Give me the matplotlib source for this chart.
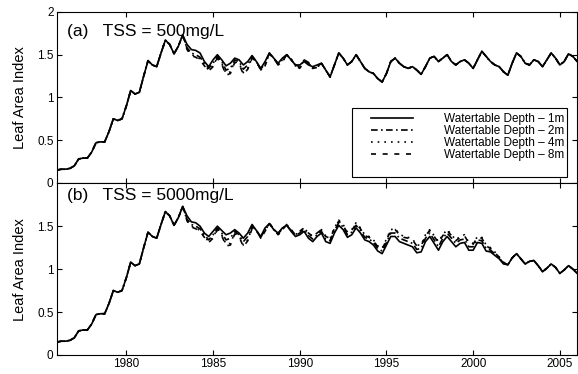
import numpy as np
import matplotlib
matplotlib.use('Agg')
import matplotlib.pyplot as plt
from matplotlib.patches import Rectangle

plt.rcParams['font.family'] = ['Liberation Sans', 'DejaVu Sans']

# time axis, quarter-year steps 1976-2006
years = np.arange(121) * 0.25 + 1976

# (a) TSS = 500mg/L, watertable depth 1m
top_1m = [0.15, 0.16, 0.16, 0.17, 0.20, 0.28, 0.29, 0.29, 0.36, 0.47,
          0.48, 0.48, 0.60, 0.75, 0.73, 0.75, 0.90, 1.08, 1.04, 1.06,
          1.25, 1.43, 1.38, 1.36, 1.52, 1.67, 1.62, 1.51, 1.60, 1.73,
          1.62, 1.56, 1.55, 1.52, 1.42, 1.36, 1.44, 1.50, 1.44, 1.37,
          1.40, 1.46, 1.44, 1.38, 1.42, 1.49, 1.42, 1.34, 1.42, 1.52,
          1.46, 1.40, 1.46, 1.50, 1.44, 1.38, 1.38, 1.42, 1.38, 1.36,
          1.38, 1.40, 1.32, 1.24, 1.38, 1.52, 1.46, 1.38, 1.42, 1.50,
          1.42, 1.34, 1.30, 1.28, 1.22, 1.18, 1.28, 1.42, 1.46, 1.40,
          1.36, 1.34, 1.36, 1.32, 1.27, 1.36, 1.46, 1.48, 1.42, 1.46,
          1.50, 1.42, 1.38, 1.42, 1.44, 1.40, 1.34, 1.44, 1.54, 1.48,
          1.42, 1.38, 1.36, 1.30, 1.26, 1.40, 1.52, 1.48, 1.40, 1.38,
          1.44, 1.42, 1.36, 1.44, 1.52, 1.46, 1.38, 1.42, 1.51, 1.48,
          1.42]
# deeper watertables differ only 1983.5 - 1991.5 (index 30..62)
top_2m_win = [1.58, 1.52, 1.50, 1.47, 1.40, 1.34, 1.40, 1.48, 1.42, 1.32,
              1.34, 1.44, 1.42, 1.33, 1.38, 1.48, 1.42, 1.33, 1.40, 1.52,
              1.46, 1.39, 1.44, 1.50, 1.44, 1.38, 1.36, 1.43, 1.40, 1.35,
              1.36, 1.40, 1.32]
top_4m_win = [1.57, 1.50, 1.48, 1.45, 1.38, 1.32, 1.37, 1.47, 1.40, 1.28,
              1.30, 1.42, 1.40, 1.29, 1.34, 1.46, 1.42, 1.32, 1.38, 1.51,
              1.46, 1.38, 1.42, 1.50, 1.45, 1.37, 1.34, 1.44, 1.41, 1.34,
              1.35, 1.40, 1.32]
top_8m_win = [1.56, 1.49, 1.47, 1.44, 1.37, 1.31, 1.36, 1.46, 1.39, 1.26,
              1.28, 1.41, 1.39, 1.27, 1.33, 1.46, 1.42, 1.32, 1.37, 1.51,
              1.46, 1.38, 1.42, 1.50, 1.45, 1.37, 1.34, 1.44, 1.41, 1.34,
              1.35, 1.40, 1.32]

# (b) TSS = 5000mg/L, watertable depth 1m (same as (a) up to 1983.25)
bot_1m_tail = [1.62, 1.55, 1.54, 1.50, 1.42, 1.38, 1.44, 1.50, 1.45, 1.40,
               1.42, 1.46, 1.42, 1.36, 1.42, 1.52, 1.45, 1.38, 1.48, 1.53,
               1.46, 1.42, 1.48, 1.51, 1.44, 1.38, 1.40, 1.44, 1.36, 1.32,
               1.38, 1.42, 1.32, 1.30, 1.42, 1.51, 1.46, 1.37, 1.40, 1.48,
               1.42, 1.34, 1.32, 1.28, 1.21, 1.18, 1.28, 1.38, 1.38, 1.32,
               1.30, 1.28, 1.26, 1.19, 1.20, 1.32, 1.38, 1.30, 1.22, 1.32,
               1.38, 1.32, 1.26, 1.30, 1.31, 1.22, 1.22, 1.31, 1.30, 1.21,
               1.20, 1.16, 1.12, 1.06, 1.05, 1.13, 1.18, 1.12, 1.06, 1.09,
               1.10, 1.04, 0.97, 1.01, 1.06, 1.02, 0.95, 0.99, 1.04, 1.00,
               0.95]
# deeper watertables differ 1983.5 - 2002.0 (index 30..104)
bot_2m_win = [1.58, 1.52, 1.50, 1.47, 1.40, 1.34, 1.40, 1.48, 1.42, 1.34,
              1.36, 1.44, 1.40, 1.32, 1.38, 1.50, 1.45, 1.37, 1.46, 1.53,
              1.46, 1.41, 1.47, 1.51, 1.45, 1.39, 1.42, 1.46, 1.39, 1.35,
              1.40, 1.44, 1.35, 1.33, 1.45, 1.54, 1.49, 1.40, 1.43, 1.51,
              1.45, 1.37, 1.35, 1.31, 1.24, 1.21, 1.31, 1.42, 1.42, 1.36,
              1.34, 1.32, 1.30, 1.23, 1.24, 1.36, 1.42, 1.34, 1.26, 1.36,
              1.42, 1.36, 1.30, 1.34, 1.35, 1.26, 1.26, 1.34, 1.33, 1.24,
              1.22, 1.18, 1.13, 1.07, 1.05]
bot_4m_win = [1.57, 1.50, 1.48, 1.45, 1.38, 1.32, 1.37, 1.47, 1.40, 1.29,
              1.30, 1.42, 1.39, 1.28, 1.34, 1.48, 1.45, 1.36, 1.45, 1.53,
              1.47, 1.40, 1.46, 1.52, 1.46, 1.40, 1.44, 1.48, 1.42, 1.38,
              1.42, 1.46, 1.38, 1.36, 1.48, 1.57, 1.52, 1.43, 1.46, 1.54,
              1.48, 1.40, 1.38, 1.34, 1.27, 1.24, 1.35, 1.46, 1.47, 1.41,
              1.38, 1.37, 1.35, 1.28, 1.28, 1.40, 1.46, 1.39, 1.32, 1.40,
              1.46, 1.40, 1.34, 1.38, 1.40, 1.31, 1.30, 1.38, 1.37, 1.28,
              1.25, 1.20, 1.14, 1.08, 1.05]
bot_8m_win = [1.56, 1.49, 1.47, 1.44, 1.37, 1.31, 1.36, 1.46, 1.39, 1.27,
              1.28, 1.41, 1.38, 1.26, 1.33, 1.47, 1.45, 1.36, 1.44, 1.53,
              1.47, 1.40, 1.46, 1.52, 1.46, 1.40, 1.44, 1.48, 1.42, 1.38,
              1.42, 1.46, 1.38, 1.36, 1.47, 1.56, 1.51, 1.42, 1.45, 1.53,
              1.47, 1.39, 1.37, 1.33, 1.26, 1.23, 1.34, 1.45, 1.46, 1.40,
              1.37, 1.36, 1.34, 1.27, 1.27, 1.39, 1.45, 1.38, 1.31, 1.39,
              1.45, 1.39, 1.33, 1.37, 1.39, 1.30, 1.29, 1.37, 1.36, 1.27,
              1.24, 1.19, 1.14, 1.08, 1.05]

labels = ['Watertable Depth \u2013 1m', 'Watertable Depth \u2013 2m',
          'Watertable Depth \u2013 4m', 'Watertable Depth \u2013 8m']
styles = ['-', (0, (4, 2, 1, 2)), (0, (1, 3)), (0, (3, 4))]

top_1m = np.array(top_1m)
bot_1m = np.concatenate([top_1m[:30], bot_1m_tail])

top_series = [top_1m]
for w in (top_2m_win, top_4m_win, top_8m_win):
    top_series.append(np.concatenate([top_1m[:30], w, top_1m[63:]]))
bot_series = [bot_1m]
for w in (bot_2m_win, bot_4m_win, bot_8m_win):
    bot_series.append(np.concatenate([bot_1m[:30], w, bot_1m[105:]]))

fig = plt.figure(figsize=(5.78, 3.74), dpi=100)
ax1 = fig.add_axes([0.0986, 0.511, 0.900, 0.457])
ax2 = fig.add_axes([0.0986, 0.051, 0.900, 0.459])

for ax, series in ((ax1, top_series), (ax2, bot_series)):
    for s, ls, lab in zip(series, styles, labels):
        ax.plot(years, s, color='black', linestyle=ls, linewidth=1.2, label=lab)
    ax.set_xlim(1976, 2006)
    ax.set_ylim(0, 2)
    ax.set_xticks([1980, 1985, 1990, 1995, 2000, 2005])
    ax.tick_params(direction='in', top=True, right=True, length=3.5,
                   labelsize=8.5, width=0.8, pad=2.5)
    for sp in ax.spines.values():
        sp.set_linewidth(0.8)
    ax.set_ylabel('Leaf Area Index', fontsize=10.5, labelpad=7)

ax1.set_yticks([0, 0.5, 1, 1.5, 2])
ax1.set_yticklabels(['0', '0.5', '1', '1.5', '2'])
ax1.set_xticklabels([])
ax2.set_yticks([0, 0.5, 1, 1.5])
ax2.set_yticklabels(['0', '0.5', '1', '1.5'])

ax1.text(0.02, 0.86, '(a)   TSS = 500mg/L', transform=ax1.transAxes,
         fontsize=12.5, va='baseline')
ax2.text(0.02, 0.90, '(b)   TSS = 5000mg/L', transform=ax2.transAxes,
         fontsize=12.5, va='baseline')

# legend box drawn separately (text sits high in the box)
ax1.add_patch(Rectangle((0.567, 0.035), 0.414, 0.404, transform=ax1.transAxes,
                        facecolor='white', edgecolor='black', linewidth=0.8,
                        zorder=4))
leg = ax1.legend(loc='upper right', bbox_to_anchor=(0.975, 0.41), fontsize=8.5,
                 frameon=False, handlelength=3.6, handletextpad=2.6,
                 labelspacing=0.0, borderpad=0, borderaxespad=0)
leg.set_zorder(5)

fig.savefig('out.png', dpi=100)
